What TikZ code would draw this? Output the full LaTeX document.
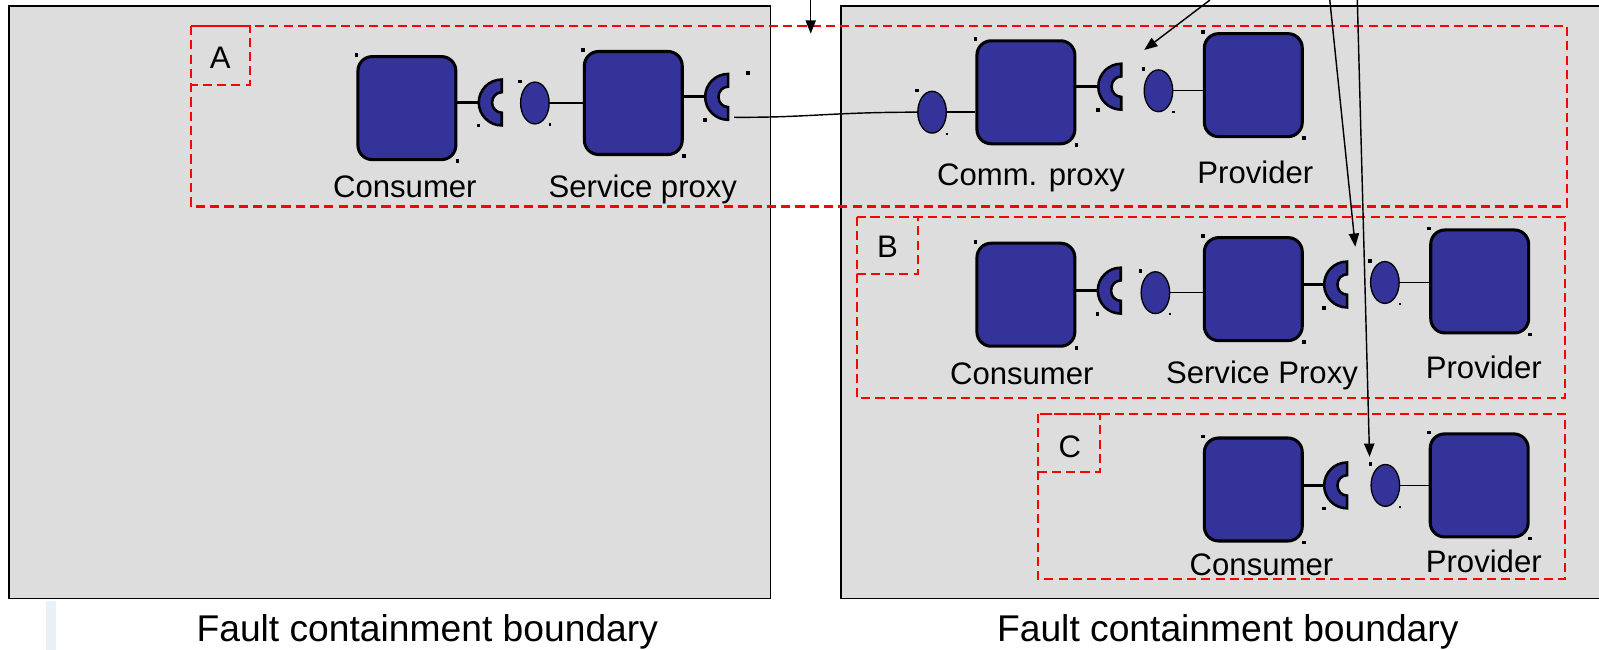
\documentclass[tikz,border=0pt]{standalone}
\usepackage{fontspec}
\setmainfont{Liberation Sans}
\usetikzlibrary{arrows.meta,shapes.geometric,calc}

\definecolor{compblue}{RGB}{51,51,153}
\definecolor{zonegray}{RGB}{221,221,221}
\definecolor{faultred}{RGB}{255,0,0}
\definecolor{haze}{RGB}{206,222,234}

\tikzset{
  comp/.style={rectangle, rounded corners=14pt, draw=black, line width=3pt,
    fill=compblue, minimum width=96pt, minimum height=101pt, inner sep=0pt},
  iface/.style={ellipse, draw=black, line width=1.3pt, fill=compblue,
    minimum width=28pt, minimum height=41pt, inner sep=0pt},
  sockslot/.style={rectangle, inner sep=0pt, minimum width=22.5pt,
    minimum height=45pt, anchor=east},
  sockfill/.style={draw=black, fill=compblue, line width=2.5pt, line join=miter},
  stem/.style={line width=2.8pt},
  wire/.style={line width=1.4pt},
  zone/.style={draw=black, line width=1.4pt, fill=zonegray},
  faultbox/.style={draw=faultred, line width=2pt, dash pattern=on 9pt off 5pt},
  lbl/.style={font=\fontsize{30.5}{32}\selectfont, anchor=base, inner sep=0pt},
  tag/.style={font=\fontsize{30.5}{32}\selectfont, inner sep=0pt},
  caption/.style={font=\fontsize{36.5}{40}\selectfont, anchor=base, inner sep=0pt},
  pointer/.style={line width=1.4pt, -{Triangle[length=13pt, width=10pt]}},
}

% required-interface socket: half ring opening to the right
\newcommand\drawsocket[1]{%
  \draw[sockfill] (#1.east) ++(0,22.5)
    arc[start angle=90, end angle=270, radius=22.5] -- ++(0,12.5)
    arc[start angle=270, end angle=90, x radius=9.5, y radius=10] -- cycle;}
% selection handles
\newcommand\handle[1]{\fill (#1) ++(-1.8,-1.8) rectangle ++(3.6,3.6);}
\newcommand\speck[1]{\fill (#1) ++(-1.1,-1.1) rectangle ++(2.2,2.2);}

\begin{document}
\begin{tikzpicture}[x=1pt,y=-1pt]
\useasboundingbox (0,0) rectangle (1568,637);
\clip (0,0) rectangle (1568,637);

% fault containment zones
\draw[zone] (8.8,5.9) rectangle (755.5,587);
\draw[zone] (824.7,5.9) rectangle (1580,587);
\fill[haze, opacity=0.45] (45,589) rectangle (55,637);

% fault regions A, B, C
\draw[faultbox] (187,25.5) rectangle (1537,202.5);
\draw[faultbox] (187,25.5) rectangle (245,83.7);
\draw[faultbox] (840,212.5) rectangle (1535,390);
\draw[faultbox] (840,212.5) rectangle (900,268.7);
\draw[faultbox] (1018,406) rectangle (1535,568);
\draw[faultbox] (1018,406) rectangle (1079,462.5);
\node[tag] (tagA) at (216,57) {A};
\node[tag] (tagB) at (870.4,242) {B};
\node[tag] (tagC) at (1049,438) {C};

% components
\node[comp] (ca)  at (399,106)    {};
\node[comp] (spa) at (621,101)    {};
\node[comp] (cpa) at (1006,90.5)  {};
\node[comp] (pa)  at (1229,83.5)  {};
\node[comp] (cb)  at (1006,289)   {};
\node[comp] (spb) at (1229,283.5) {};
\node[comp] (pb)  at (1451,276)   {};
\node[comp] (cc)  at (1229,480)   {};
\node[comp] (pc)  at (1450.5,476) {};

% required interfaces
\node[sockslot] (sa1) at (492,100.5) {};
\node[sockslot] (sa2) at (714,95)    {};
\node[sockslot] (sa3) at (1099.5,85) {};
\node[sockslot] (sb1) at (1099,285)  {};
\node[sockslot] (sb2) at (1321,279)  {};
\node[sockslot] (sc)  at (1321,476)  {};

% provided interfaces
\node[iface] (ea1) at (524.5,101) {};
\node[iface] (ea2) at (914,110)   {};
\node[iface] (ea3) at (1136,89)   {};
\node[iface] (eb1) at (1133,287)  {};
\node[iface] (eb2) at (1358,277)  {};
\node[iface] (ec)  at (1358.5,476) {};

% stems from components to their sockets
\foreach \c/\s in {ca/sa1, spa/sa2, cpa/sa3, cb/sb1, spb/sb2, cc/sc}
  \draw[stem] (\s.west -| \c.east) -- (\s.west);
\foreach \s in {sa1, sa2, sa3, sb1, sb2, sc}
  \drawsocket{\s};

% provided-interface links
\foreach \e/\c in {ea1/spa, ea2/cpa, ea3/pa, eb1/spb, eb2/pb, ec/pc}
  \draw[wire] (\e.east) -- (\e.east -| \c.west);

% remote link from the service proxy to the communication proxy
\coordinate (tailA) at (720,115);
\draw[wire] (tailA) .. controls (790,115.5) and (815,110) .. (ea2.west);

% selection handles
\foreach \c in {ca, spa, cpa, pa, cb, spb, pb, cc, pc} {
  \handle{\c.north west}
  \handle{\c.south east}
}
\foreach \s in {sa1, sa2, sa3, sb1, sb2, sc}
  \handle{\s.south west};
\foreach \e in {ea1, ea2, ea3, eb1, eb2, ec} {
  \handle{\e.west |- \e.north}
  \speck{\e.east |- \e.south}
}
\coordinate (markA) at (733.5,71.5);
\handle{markA}

% pointers from above
\coordinate (srcT) at (795,0);    \coordinate (tipT) at (795,33);
\coordinate (src1) at (1186.5,0); \coordinate (tip1) at (1122,49);
\coordinate (src2) at (1304,0);   \coordinate (tip2) at (1329,242);
\coordinate (src3) at (1331,0);   \coordinate (tip3) at (1343,448);
\draw[pointer] (srcT) -- (tipT);
\draw[pointer] (src1) -- (tip1);
\draw[pointer] (src2) -- (tip2);
\draw[pointer] (src3) -- (tip3);

% component labels
\node[lbl] (lca)  at (397,194)    {Consumer};
\node[lbl] (lspa) at (630.4,194)  {Service proxy};
\node[lbl] (lcpa) at (1011,182)   {Comm. proxy};
\node[lbl] (lpa)  at (1231,180)   {Provider};
\node[lbl] (lcb)  at (1002,377)   {Consumer};
\node[lbl] (lspb) at (1237.5,376) {Service Proxy};
\node[lbl] (lpb)  at (1455,371)   {Provider};
\node[lbl] (lcc)  at (1237,564)   {Consumer};
\node[lbl] (lpc)  at (1455,561.5) {Provider};

% zone captions
\node[caption] (capL) at (419,629)  {Fault containment boundary};
\node[caption] (capR) at (1204,629) {Fault containment boundary};
\end{tikzpicture}
\end{document}
